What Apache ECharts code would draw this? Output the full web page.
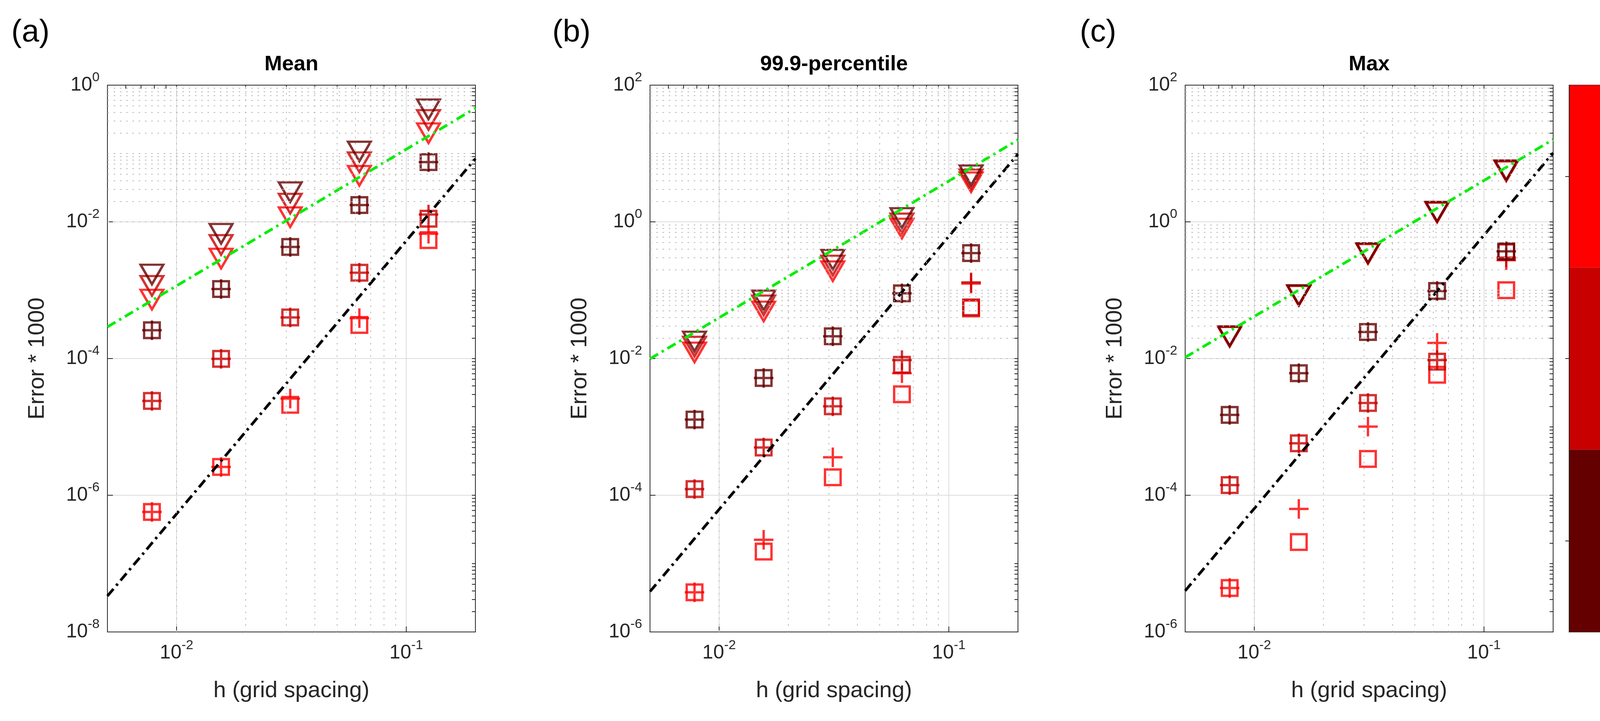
<!DOCTYPE html>
<html>
<head>
<meta charset="utf-8">
<script src="https://cdn.jsdelivr.net/npm/echarts@6/dist/echarts.min.js"></script>
<style>
html, body { margin: 0; padding: 0; background: #fff; }
#chart { width: 4303px; height: 1846px; }
</style>
</head>
<body>
<div id="chart"></div>
<script>
var FONT = "'Liberation Sans', Arial, sans-serif";

// grid spacing
var h = [0.0078125, 0.015625, 0.03125, 0.0625, 0.125];

// (a) Mean
var meanTri2 = [0.0017, 0.0067, 0.0272, 0.107, 0.443];
var meanTri4 = [0.00116, 0.0046, 0.0185, 0.0747, 0.31];
var meanTri10 = [0.00073, 0.0029, 0.0117, 0.0472, 0.198];
var meanSq2 = [2.6e-4, 1.04e-3, 4.3e-3, 0.0176, 0.0748];
var meanPl2 = [2.6e-4, 1.04e-3, 4.3e-3, 0.0176, 0.0748];
var meanSq4 = [2.4e-5, 9.9e-5, 4.0e-4, 1.8e-3, 0.0111];
var meanPl4 = [2.4e-5, 9.9e-5, 4.0e-4, 1.8e-3, 0.0128];
var meanSq10 = [5.7e-7, 2.6e-6, 2.1e-5, 3.1e-4, 0.0054];
var meanPl10 = [5.7e-7, 2.6e-6, 2.6e-5, 3.9e-4, 0.0067];

// (b) 99.9-percentile
var pctTri2 = [0.0178, 0.071, 0.28, 1.14, 4.8];
var pctTri4 = [0.015, 0.06, 0.23, 0.95, 4.2];
var pctTri10 = [0.0123, 0.049, 0.19, 0.8, 3.8];
var pctSq2 = [1.28e-3, 5.2e-3, 0.0212, 0.09, 0.349];
var pctPl2 = [1.28e-3, 5.2e-3, 0.0212, 0.09, 0.349];
var pctSq4 = [1.23e-4, 5.0e-4, 2.0e-3, 8.1e-3, 0.056];
var pctPl4 = [1.23e-4, 5.0e-4, 2.0e-3, 9.5e-3, 0.13];
var pctSq10 = [3.8e-6, 1.5e-5, 1.83e-4, 3.0e-3, 0.054];
var pctPl10 = [3.8e-6, 2.23e-5, 3.6e-4, 6.1e-3, 0.125];

// (c) Max
var maxTri2 = [0.0213, 0.085, 0.35, 1.41, 5.7];
var maxTri4 = [0.021, 0.084, 0.345, 1.39, 5.6];
var maxTri10 = [0.0208, 0.083, 0.34, 1.37, 5.5];
var maxSq2 = [1.5e-3, 6.1e-3, 0.0245, 0.0975, 0.37];
var maxPl2 = [1.5e-3, 6.1e-3, 0.0245, 0.0975, 0.37];
var maxSq4 = [1.41e-4, 5.75e-4, 2.24e-3, 9.0e-3, 0.36];
var maxPl4 = [1.41e-4, 5.75e-4, 2.24e-3, 9.5e-3, 0.3];
var maxSq10 = [4.4e-6, 2.07e-5, 3.4e-4, 5.8e-3, 0.1];
var maxPl10 = [4.4e-6, 6.3e-5, 1.01e-3, 0.0169, 0.275];

// reference slopes (end points at the x limits)
var refH = [0.005, 0.2];
var meanGreen = [2.9e-4, 0.46];
var meanBlack = [3.35e-8, 0.084];
var pctGreen = [0.0099, 15.8];
var pctBlack = [3.9e-6, 9.8];
var maxGreen = [0.0104, 16];
var maxBlack = [4.0e-6, 10.2];

var cbLabels = ['Lz = 2', 'Lz = 4', 'Lz = 10'];
var cbColors = ['#640000', '#c80000', '#ff0000'];

var panels = [
    { title: 'Mean', tag: '(a)', left: 275, ymin: 1e-8, ymax: 1,
      tri: [meanTri2, meanTri4, meanTri10], sq: [meanSq2, meanSq4, meanSq10], pl: [meanPl2, meanPl4, meanPl10],
      green: meanGreen, black: meanBlack, tagX: 78 },
    { title: '99.9-percentile', tag: '(b)', left: 1664, ymin: 1e-6, ymax: 100,
      tri: [pctTri2, pctTri4, pctTri10], sq: [pctSq2, pctSq4, pctSq10], pl: [pctPl2, pctPl4, pctPl10],
      green: pctGreen, black: pctBlack, tagX: 1463 },
    { title: 'Max', tag: '(c)', left: 3034, ymin: 1e-6, ymax: 100,
      tri: [maxTri2, maxTri4, maxTri10], sq: [maxSq2, maxSq4, maxSq10], pl: [maxPl2, maxPl4, maxPl10],
      green: maxGreen, black: maxBlack, tagX: 2811 }
];

var TOP = 218, HEIGHT = 1400, WIDTH = 942;
var AX = '#262626';
var PLUS = 'path://M0,50L100,50M50,0L50,100';

function powLabel(v) {
    var e = Math.log10(v);
    var r = Math.round(e);
    if (Math.abs(e - r) > 1e-6) return '';
    return '{b|10}{s|' + r + '}';
}
var labelRich = {
    b: { fontSize: 50, fontFamily: FONT, color: AX, lineHeight: 72 },
    s: { fontSize: 34, fontFamily: FONT, color: AX, verticalAlign: 'top', lineHeight: 34 }
};

// 1..9 x 10^k positions strictly inside (lo, hi)
function logSteps(lo, hi) {
    var out = [];
    var e0 = Math.floor(Math.log10(lo)), e1 = Math.ceil(Math.log10(hi));
    for (var k = e0; k < e1; k++) {
        for (var m = 1; m <= 9; m++) {
            var v = m * Math.pow(10, k);
            if (v > lo * 1.001 && v < hi * 0.999) out.push(v);
        }
    }
    return out;
}

function minorLines(xmin, xmax, ymin, ymax) {
    var out = [];
    logSteps(xmin, xmax).forEach(function (v) {
        var e = Math.log10(v);
        if (Math.abs(e - Math.round(e)) > 1e-6) out.push({ xAxis: v });
    });
    logSteps(ymin, ymax).forEach(function (v) {
        var e = Math.log10(v);
        var r = Math.round(e);
        if (Math.abs(e - r) > 1e-6 || r % 2 !== 0) out.push({ yAxis: v });
    });
    return out;
}

var grids = [], xAxes = [], yAxes = [], series = [], titles = [];

panels.forEach(function (p, i) {
    grids.push({ left: p.left, top: TOP, width: WIDTH, height: HEIGHT, show: true,
        borderColor: AX, borderWidth: 2, backgroundColor: '#fff', containLabel: false });

    var xBase = { type: 'log', logBase: 10, min: 0.005, max: 0.2, gridIndex: i,
        axisLine: { show: true, onZero: false, lineStyle: { color: AX, width: 2 } },
        axisTick: { show: true, inside: true, length: 14, lineStyle: { color: AX, width: 2 } } };
    xAxes.push(Object.assign({}, xBase, {
        position: 'bottom',
        axisLabel: { formatter: powLabel, rich: labelRich, margin: 18 },
        splitLine: { show: true, lineStyle: { color: '#dcdcdc', width: 2 } },
        name: 'h (grid spacing)', nameLocation: 'middle', nameGap: 122,
        nameTextStyle: { fontSize: 58, fontFamily: FONT, color: AX }
    }));
    xAxes.push(Object.assign({}, xBase, { position: 'top', axisLabel: { show: false }, splitLine: { show: false },
        axisTick: { show: true, inside: true, length: 9, customValues: logSteps(0.005, 0.2),
            lineStyle: { color: AX, width: 2 } } }));

    var yBase = { type: 'log', logBase: 10, min: p.ymin, max: p.ymax, interval: 2, gridIndex: i,
        axisLine: { show: true, onZero: false, lineStyle: { color: AX, width: 2 } },
        axisTick: { show: true, inside: true, length: 14, lineStyle: { color: AX, width: 2 } } };
    yAxes.push(Object.assign({}, yBase, {
        position: 'left',
        axisLabel: { formatter: powLabel, rich: labelRich, margin: 20 },
        splitLine: { show: true, lineStyle: { color: '#dcdcdc', width: 2 } },
        name: 'Error * 1000', nameLocation: 'middle', nameGap: 150, nameRotate: 90,
        nameTextStyle: { fontSize: 58, fontFamily: FONT, color: AX }
    }));
    yAxes.push(Object.assign({}, yBase, { position: 'right', axisLabel: { show: false }, splitLine: { show: false },
        axisTick: { show: true, inside: true, length: 9, customValues: logSteps(p.ymin, p.ymax),
            lineStyle: { color: AX, width: 2 } } }));

    var xi = 2 * i, yi = 2 * i;

    // minor grid
    series.push({ type: 'scatter', xAxisIndex: xi, yAxisIndex: yi, data: [], silent: true, z: 1,
        markLine: { silent: true, symbol: ['none', 'none'], label: { show: false }, animation: false,
            lineStyle: { color: '#b8b8b8', width: 2, type: [4, 12] },
            emphasis: { disabled: true },
            data: minorLines(0.005, 0.2, p.ymin, p.ymax) } });

    // markers, drawn Lz = 10 first so Lz = 2 sits on top
    for (var j = 2; j >= 0; j--) {
        var c = cbColors[j];
        var st = { color: 'transparent', borderColor: c, borderWidth: 6 };
        series.push({ type: 'scatter', xAxisIndex: xi, yAxisIndex: yi, silent: true, z: 3,
            symbol: 'triangle', symbolRotate: 180, symbolSize: [58, 50], itemStyle: st,
            data: h.map(function (x, k) { return [x, p.tri[j][k]]; }) });
        series.push({ type: 'scatter', xAxisIndex: xi, yAxisIndex: yi, silent: true, z: 3,
            symbol: 'rect', symbolSize: [40, 40], itemStyle: st,
            data: h.map(function (x, k) { return [x, p.sq[j][k]]; }) });
        series.push({ type: 'scatter', xAxisIndex: xi, yAxisIndex: yi, silent: true, z: 3,
            symbol: PLUS, symbolSize: [50, 50], itemStyle: st,
            data: h.map(function (x, k) { return [x, p.pl[j][k]]; }) });
    }

    // reference slope lines
    series.push({ type: 'line', xAxisIndex: xi, yAxisIndex: yi, silent: true, z: 4, symbol: 'none',
        lineStyle: { color: '#00ee00', width: 7, type: [24, 11, 6, 11] },
        data: refH.map(function (x, k) { return [x, p.green[k]]; }) });
    series.push({ type: 'line', xAxisIndex: xi, yAxisIndex: yi, silent: true, z: 4, symbol: 'none',
        lineStyle: { color: '#000', width: 7, type: [24, 11, 6, 11] },
        data: refH.map(function (x, k) { return [x, p.black[k]]; }) });

    titles.push({ text: p.title, left: p.left + WIDTH / 2, top: 138, textAlign: 'center', padding: 0,
        textStyle: { fontSize: 54, fontWeight: 'bold', fontFamily: FONT, color: '#000' } });
    titles.push({ text: p.tag, left: p.tagX, top: 44, textAlign: 'center', padding: 0,
        textStyle: { fontSize: 80, fontWeight: 'normal', fontFamily: FONT, color: '#000' } });
});

// colour bar
grids.push({ left: 4017, top: TOP, width: 86, height: HEIGHT, show: true, borderColor: AX, borderWidth: 2 });
xAxes.push({ type: 'value', gridIndex: 3, min: 0, max: 1, show: false });
yAxes.push({ type: 'category', gridIndex: 3, data: cbLabels, position: 'right', z: 10,
    axisLine: { show: true, lineStyle: { color: AX, width: 2 } },
    axisTick: { show: true, inside: true, alignWithLabel: true, length: 10, lineStyle: { color: AX, width: 2 } },
    axisLabel: { fontSize: 46, fontFamily: FONT, color: AX, margin: 22 },
    splitLine: { show: false } });
series.push({ type: 'bar', xAxisIndex: 6, yAxisIndex: 6, silent: true, barWidth: '100%',
    data: cbColors.map(function (c) { return { value: 1, itemStyle: { color: c } }; }) });

var chart = echarts.init(document.getElementById('chart'));
chart.setOption({
    animation: false,
    backgroundColor: '#fff',
    title: titles,
    grid: grids,
    xAxis: xAxes,
    yAxis: yAxes,
    series: series
});
</script>
</body>
</html>
